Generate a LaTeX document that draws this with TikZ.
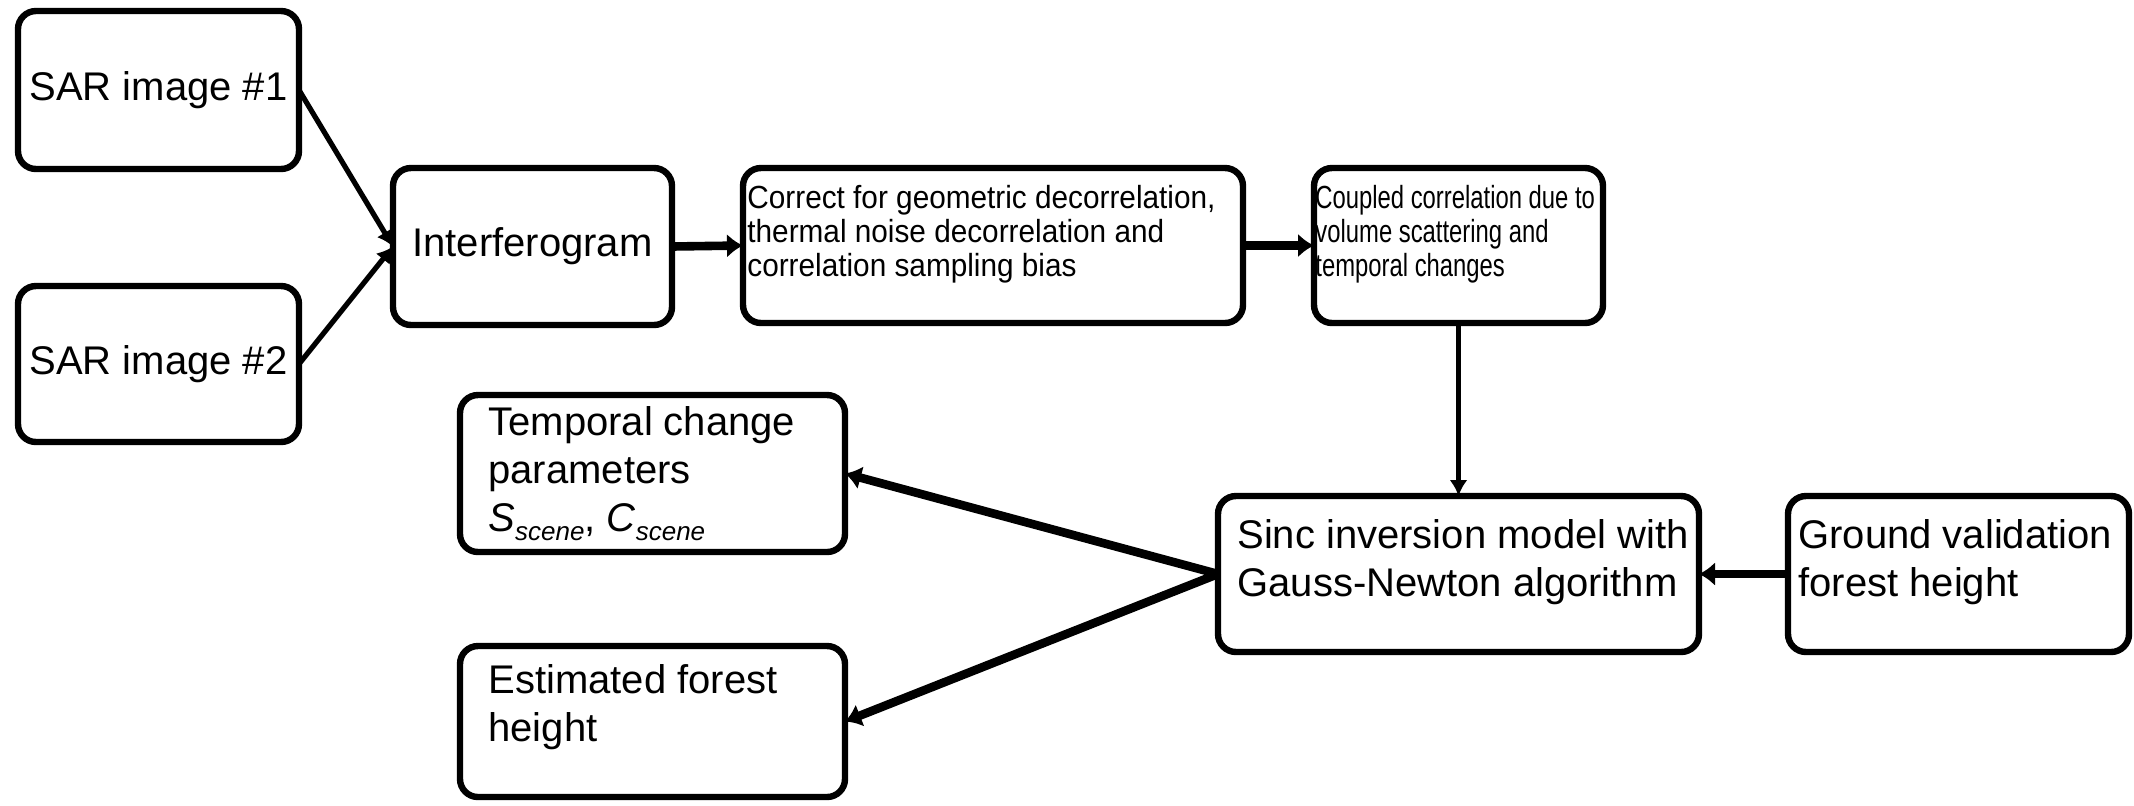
\documentclass[tikz,border=0pt]{standalone}
\usepackage{fontspec}
\setmainfont{Liberation Sans}
% narrower cuts of the same family for the two long process boxes
\newfontfamily\corrfont[FakeStretch=0.93]{Liberation Sans}
\newfontfamily\coupfont[FakeStretch=0.745]{Liberation Sans}
\usetikzlibrary{arrows.meta}
% italic subscript used for the scene parameters
\newcommand\scenesub[1]{\raisebox{-0.45ex}{\fontsize{13pt}{13pt}\selectfont\itshape #1}}
\begin{document}
\begin{tikzpicture}[x=0.5pt,y=-0.5pt,
  box/.style={draw, line width=3.2pt, rounded corners=9pt, inner sep=0pt, outer sep=0pt,
              font=\fontsize{20pt}{24pt}\selectfont},
  txt/.style={anchor=north west, inner sep=0pt, align=left,
              font=\fontsize{20pt}{24pt}\selectfont},
  corrtxt/.style={anchor=north west, inner sep=0pt, align=left,
              font=\corrfont\fontsize{16pt}{17pt}\selectfont},
  couptxt/.style={anchor=north west, inner sep=0pt, align=left,
              font=\coupfont\fontsize{16pt}{17pt}\selectfont},
  thinarrow/.style={line width=2.6pt, -{Latex[length=8pt,width=9pt]}},
  thickarrow/.style={line width=4.3pt, -{Latex[length=8pt,width=12pt]}},
]
\useasboundingbox (0,0) rectangle (2134,805);

% input images and interferogram
\node[box, minimum width=140.5pt, minimum height=79pt] (sar1) at (158.5,90) {SAR image \#1};
\node[box, minimum width=140.5pt, minimum height=78pt] (sar2) at (158.5,364) {SAR image \#2};
\node[box, minimum width=139.5pt, minimum height=78.5pt] (intf) at (532.5,246.5) {Interferogram};

% correction stages
\node[box, minimum width=250pt, minimum height=77.5pt] (corr) at (993,245.5) {};
\node[corrtxt] (corrT) at (747,185) {Correct for geometric decorrelation,\\thermal noise decorrelation and\\correlation sampling bias};
\node[box, minimum width=144.5pt, minimum height=77.5pt] (coup) at (1458.5,245.5) {};
\node[couptxt] (coupT) at (1315,185) {Coupled correlation due to\\volume scattering and\\temporal changes};

% inversion and validation
\node[box, minimum width=240.5pt, minimum height=78pt] (sinc) at (1458.5,574) {};
\node[txt] (sincT) at (1237,519) {Sinc inversion model with\\Gauss-Newton algorithm};
\node[box, minimum width=170.5pt, minimum height=78pt] (grnd) at (1958.5,574) {};
\node[txt] (grndT) at (1798,519) {Ground validation\\forest height};

% outputs
\node[box, minimum width=192.5pt, minimum height=78.5pt] (temp) at (652.5,473.5) {};
\node[txt] (tempT) at (488,406) {Temporal change\\parameters\\\textit{S}\scenesub{scene}, \textit{C}\scenesub{scene}};
\node[box, minimum width=192.5pt, minimum height=75.5pt] (est) at (652.5,721.5) {};
\node[txt] (estT) at (488,664) {Estimated forest\\height};

% connectors
\draw[thinarrow] (sar1.east) -- (intf.west);
\draw[thinarrow] (sar2.east) -- (intf.west);
\draw[thickarrow] (intf.east) -- (corr.west);
\draw[thickarrow] (corr.east) -- (coup.west);
\draw[thinarrow] (coup.south) -- (sinc.north);
\draw[thickarrow] (grnd.west) -- (sinc.east);
\draw[thickarrow] (sinc.west) -- (temp.east);
\draw[thickarrow] (sinc.west) -- (est.east);
\end{tikzpicture}
\end{document}
